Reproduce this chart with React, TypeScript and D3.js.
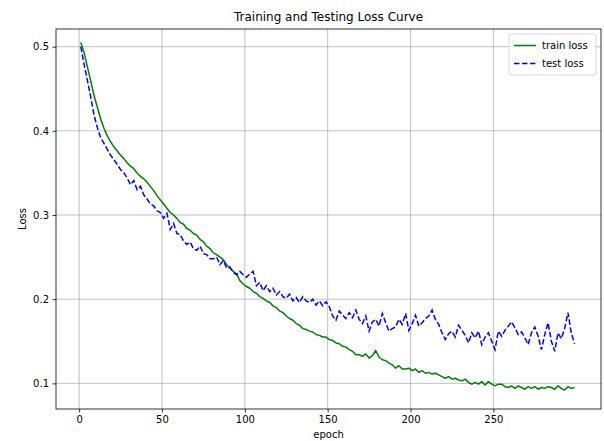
import React, { useEffect, useRef } from "react";
import * as d3 from "d3";

// epochs sampled every 2 (1, 3, ..., 299)
const epochs: number[] = d3.range(1, 300, 2);

const trainLoss: number[] = [
  0.505, 0.493, 0.476, 0.459, 0.442, 0.428, 0.414, 0.403, 0.394, 0.387,
  0.381, 0.376, 0.371, 0.367, 0.362, 0.358, 0.355, 0.35, 0.346, 0.343,
  0.339, 0.334, 0.329, 0.323, 0.318, 0.313, 0.308, 0.303, 0.3, 0.296,
  0.291, 0.289, 0.284, 0.282, 0.278, 0.276, 0.271, 0.268, 0.263, 0.26,
  0.255, 0.253, 0.25, 0.247, 0.241, 0.237, 0.233, 0.23, 0.222, 0.218,
  0.215, 0.213, 0.209, 0.207, 0.203, 0.201, 0.198, 0.196, 0.192, 0.19,
  0.186, 0.184, 0.18, 0.177, 0.175, 0.171, 0.169, 0.165, 0.164, 0.162,
  0.161, 0.158, 0.157, 0.155, 0.155, 0.152, 0.151, 0.148, 0.147, 0.144,
  0.143, 0.14, 0.138, 0.134, 0.134, 0.132, 0.135, 0.13, 0.133, 0.139,
  0.131, 0.128, 0.127, 0.124, 0.122, 0.118, 0.121, 0.117, 0.117, 0.118,
  0.115, 0.117, 0.113, 0.115, 0.112, 0.113, 0.111, 0.112, 0.11, 0.108,
  0.106, 0.108, 0.105, 0.106, 0.104, 0.103, 0.105, 0.101, 0.099, 0.101,
  0.099, 0.102, 0.098, 0.102, 0.099, 0.097, 0.099, 0.099, 0.096, 0.095,
  0.097, 0.094, 0.097, 0.095, 0.093, 0.096, 0.094, 0.096, 0.093, 0.095,
  0.094, 0.096, 0.095, 0.093, 0.097, 0.094, 0.092, 0.096, 0.094, 0.095,
];

const testLoss: number[] = [
  0.5, 0.479, 0.46, 0.44, 0.419, 0.404, 0.392, 0.385, 0.378, 0.371,
  0.366, 0.36, 0.354, 0.35, 0.344, 0.336, 0.341, 0.33, 0.334, 0.324,
  0.319, 0.313, 0.311, 0.305, 0.303, 0.296, 0.302, 0.283, 0.29, 0.278,
  0.277, 0.269, 0.265, 0.268, 0.26, 0.258, 0.263, 0.254, 0.253, 0.248,
  0.248, 0.25, 0.241, 0.246, 0.237, 0.238, 0.232, 0.229, 0.233, 0.229,
  0.226, 0.23, 0.233, 0.216, 0.22, 0.21, 0.216, 0.209, 0.213, 0.205,
  0.209, 0.203, 0.201, 0.206, 0.198, 0.202, 0.196, 0.203, 0.198, 0.196,
  0.2, 0.193, 0.198, 0.192, 0.197, 0.191, 0.18, 0.175, 0.186, 0.181,
  0.177, 0.184, 0.178, 0.187, 0.176, 0.171, 0.18, 0.162, 0.173, 0.176,
  0.168, 0.183, 0.172, 0.162, 0.165, 0.167, 0.176, 0.17, 0.183, 0.163,
  0.171, 0.181, 0.168, 0.172, 0.177, 0.18, 0.187, 0.176, 0.17, 0.16,
  0.152, 0.159, 0.162, 0.155, 0.169, 0.163, 0.157, 0.148, 0.16, 0.154,
  0.162, 0.146, 0.155, 0.16, 0.15, 0.14, 0.162, 0.156, 0.163, 0.168,
  0.173, 0.166, 0.158, 0.161, 0.154, 0.146, 0.16, 0.167, 0.156, 0.14,
  0.158, 0.172, 0.15, 0.138, 0.16, 0.153, 0.165, 0.184, 0.16, 0.147,
];

const xTicks = [0, 50, 100, 150, 200, 250];
const yTicks = [0.1, 0.2, 0.3, 0.4, 0.5];

const seriesNames = ["train loss", "test loss"];

function App() {
  const svgRef = useRef<SVGSVGElement>(null);
  const width = 604;
  const height = 441;

  useEffect(() => {
    const svg = d3.select(svgRef.current);
    svg.selectAll("*").remove();

    const plot = { left: 56, right: 601, top: 29, bottom: 409 };
    const font = "DejaVu Sans, sans-serif";

    const x = d3
      .scaleLinear()
      .domain([-13.95, 314.95])
      .range([plot.left, plot.right]);

    const y = d3
      .scaleLinear()
      .domain([0.0695, 0.521])
      .range([plot.bottom, plot.top]);

    svg
      .append("rect")
      .attr("width", width)
      .attr("height", height)
      .attr("fill", "#ffffff");

    // grid lines
    const grid = svg.append("g").attr("stroke", "#b0b0b0").attr("stroke-width", 0.8);
    xTicks.forEach((t) => {
      grid
        .append("line")
        .attr("x1", x(t))
        .attr("x2", x(t))
        .attr("y1", plot.top)
        .attr("y2", plot.bottom);
    });
    yTicks.forEach((t) => {
      grid
        .append("line")
        .attr("x1", plot.left)
        .attr("x2", plot.right)
        .attr("y1", y(t))
        .attr("y2", y(t));
    });

    // lines
    const line = d3
      .line<number>()
      .x((d, i) => x(epochs[i]))
      .y((d) => y(d));

    svg
      .append("path")
      .datum(trainLoss)
      .attr("d", line)
      .attr("fill", "none")
      .attr("stroke", "#008000")
      .attr("stroke-width", 1.5)
      .attr("stroke-linejoin", "round");

    svg
      .append("path")
      .datum(testLoss)
      .attr("d", line)
      .attr("fill", "none")
      .attr("stroke", "#0000ff")
      .attr("stroke-width", 1.5)
      .attr("stroke-dasharray", "5.55,2.4");

    // axes
    const xAxis = svg
      .append("g")
      .attr("transform", `translate(0,${plot.bottom})`)
      .call(d3.axisBottom(x).tickValues(xTicks).tickSize(3.5).tickPadding(3.5).tickFormat(d3.format("d")));
    const yAxis = svg
      .append("g")
      .attr("transform", `translate(${plot.left},0)`)
      .call(d3.axisLeft(y).tickValues(yTicks).tickSize(3.5).tickPadding(3.5).tickFormat(d3.format(".1f")));

    [xAxis, yAxis].forEach((ax) => {
      ax.select(".domain").remove();
      ax.selectAll("line").attr("stroke", "#000").attr("stroke-width", 0.8);
      ax.selectAll("text").attr("fill", "#000").style("font-family", font).style("font-size", "10px");
    });

    // frame
    svg
      .append("rect")
      .attr("x", plot.left)
      .attr("y", plot.top)
      .attr("width", plot.right - plot.left)
      .attr("height", plot.bottom - plot.top)
      .attr("fill", "none")
      .attr("stroke", "#000")
      .attr("stroke-width", 0.8);

    // title and labels
    svg
      .append("text")
      .attr("x", (plot.left + plot.right) / 2)
      .attr("y", 21)
      .attr("text-anchor", "middle")
      .style("font-family", font)
      .style("font-size", "12px")
      .text("Training and Testing Loss Curve");

    svg
      .append("text")
      .attr("x", (plot.left + plot.right) / 2)
      .attr("y", 438)
      .attr("text-anchor", "middle")
      .style("font-family", font)
      .style("font-size", "10px")
      .text("epoch");

    svg
      .append("text")
      .attr("text-anchor", "middle")
      .attr("transform", `translate(26,${(plot.top + plot.bottom) / 2})rotate(-90)`)
      .style("font-family", font)
      .style("font-size", "10px")
      .text("Loss");

    // legend
    const legend = svg.append("g").attr("transform", `translate(509,34)`);
    legend
      .append("rect")
      .attr("width", 87)
      .attr("height", 41)
      .attr("rx", 2)
      .attr("fill", "#ffffff")
      .attr("fill-opacity", 0.8)
      .attr("stroke", "#cccccc")
      .attr("stroke-width", 0.8);
    seriesNames.forEach((name, i) => {
      const yy = 11.5 + i * 18;
      legend
        .append("line")
        .attr("x1", 5)
        .attr("x2", 27)
        .attr("y1", yy)
        .attr("y2", yy)
        .attr("stroke", i === 0 ? "#008000" : "#0000ff")
        .attr("stroke-width", 1.5)
        .attr("stroke-dasharray", i === 0 ? null : "5.55,2.4");
      legend
        .append("text")
        .attr("x", 33)
        .attr("y", yy + 3.5)
        .style("font-family", font)
        .style("font-size", "10px")
        .text(name);
    });
  }, []);

  return (
    <svg
      ref={svgRef}
      width={width}
      height={height}
      style={{ position: "absolute", left: 0, top: 0, display: "block" }}
    ></svg>
  );
}

export default App;
